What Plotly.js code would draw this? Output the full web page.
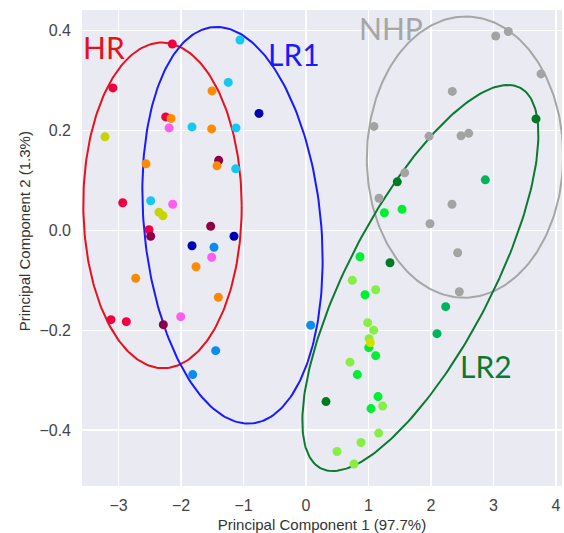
<!DOCTYPE html>
<html>
<head>
<meta charset="utf-8">
<script src="https://cdn.plot.ly/plotly-3.0.1.min.js"></script>
<style>html,body{margin:0;padding:0;background:#fff;}#chart{width:564px;height:533px;}</style>
</head>
<body>
<div id="chart"></div>
<script>
// ---- data (PC1, PC2) per sample colour group ----
const redX = [-2.14, -3.09, -2.245, -2.933, -2.512, -3.12, -2.875];
const redY = [0.373, 0.285, 0.227, 0.055, 0.001, -0.179, -0.183];
const orangeX = [-1.504, -2.16, -1.51, -2.56, -1.424, -1.76, -2.725, -1.403];
const orangeY = [0.279, 0.224, 0.203, 0.133, 0.129, -0.073, -0.096, -0.134];
const olivX = [-3.216, -2.352, -2.288];
const olivY = [0.187, 0.036, 0.029];
const pinkX = [-2.19, -2.133, -1.509, -2.005];
const pinkY = [0.205, 0.052, -0.054, -0.173];
const maroonX = [-1.397, -2.485, -1.525, -2.283];
const maroonY = [0.14, -0.012, 0.008, -0.189];
const cyanX = [-1.056, -1.243, -1.824, -1.12, -1.125, -2.485];
const cyanY = [0.381, 0.296, 0.207, 0.205, 0.123, 0.059];
const azureX = [-1.472, -1.445, -1.813, 0.075];
const azureY = [-0.034, -0.241, -0.289, -0.19];
const navyX = [-0.752, -1.152, -1.824];
const navyY = [0.234, -0.012, -0.031];
const grayX = [3.035, 3.237, 3.76, 2.341, 1.088, 1.968, 2.48, 2.603, 1.579, 1.168, 2.336, 1.984, 2.427, 2.453];
const grayY = [0.389, 0.398, 0.313, 0.278, 0.208, 0.188, 0.189, 0.194, 0.115, 0.064, 0.052, 0.013, -0.045, -0.123];
const dkGreenX = [1.46, 1.344, 0.32, 3.68];
const dkGreenY = [0.097, -0.065, -0.343, 0.223];
const seaGreenX = [2.869, 2.235, 2.096];
const seaGreenY = [0.101, -0.153, -0.207];
const brGreenX = [1.253, 1.536, 0.864, 0.944, 1.003, 1.115, 0.821, 1.152, 1.04];
const brGreenY = [0.035, 0.042, -0.053, -0.129, -0.235, -0.251, -0.289, -0.333, -0.357];
const ltGreenX = [0.741, 1.115, 0.987, 1.083, 1.008, 0.704, 1.227, 1.163, 0.88, 0.496, 0.768];
const ltGreenY = [-0.1, -0.119, -0.185, -0.2, -0.217, -0.264, -0.352, -0.406, -0.425, -0.443, -0.468];
const yellowX = [1.029];
const yellowY = [-0.225];

// ---- group ellipses: centre (cx, cy), terms A, B, C of x = cx + A cos t + C sin t, y = cy + B sin t ----
const ellipseNames = ['HR', 'LR1', 'NHP', 'LR2'];
const ellipseCX = [-2.296, -1.176, 2.544, 1.83];
const ellipseCY = [0.0498, 0.010, 0.1465, -0.0955];
const ellipseA = [1.267, 1.42, 1.571, 1.267];
const ellipseB = [0.326, 0.397, 0.2815, 0.3865];
const ellipseC = [-0.01, -0.253, 0.013, 1.4];
const ellipseColors = ['#e8101c', '#1a1aff', '#a6a6a6', '#0b7a30'];

// group labels
const labelText = ['HR', 'LR1', 'NHP', 'LR2'];
const labelX = [-3.24, -0.2, 1.36, 2.88];
const labelY = [0.366, 0.352, 0.405, -0.272];

const traces = [];
ellipseNames.forEach((n, i) => {
  const xs = [], ys = [];
  for (let k = 0; k <= 240; k++) {
    const t = 2 * Math.PI * k / 240;
    xs.push(ellipseCX[i] + ellipseA[i] * Math.cos(t) + ellipseC[i] * Math.sin(t));
    ys.push(ellipseCY[i] + ellipseB[i] * Math.sin(t));
  }
  traces.push({x: xs, y: ys, mode: 'lines', line: {color: ellipseColors[i], width: 2}, hoverinfo: 'skip', name: n});
});

const groups = [
  [grayX, grayY, '#a3a3a3'],
  [redX, redY, '#f00040'],
  [olivX, olivY, '#c8d400'],
  [pinkX, pinkY, '#ff5cf0'],
  [maroonX, maroonY, '#8c0048'],
  [orangeX, orangeY, '#ff8a00'],
  [cyanX, cyanY, '#14c8f0'],
  [azureX, azureY, '#0a8cf0'],
  [navyX, navyY, '#0000b4'],
  [dkGreenX, dkGreenY, '#007a22'],
  [seaGreenX, seaGreenY, '#00b45c'],
  [ltGreenX, ltGreenY, '#86ee44'],
  [brGreenX, brGreenY, '#00ee33'],
  [yellowX, yellowY, '#d6e000']
];
groups.forEach(g => traces.push({x: g[0], y: g[1], mode: 'markers', marker: {color: g[2], size: 9}, hoverinfo: 'x+y'}));

const annotations = labelText.map((t, i) => ({
  x: labelX[i], y: labelY[i], xref: 'x', yref: 'y', text: t, showarrow: false,
  font: {family: 'Lato, sans-serif', size: 30, color: ellipseColors[i]}, xanchor: 'center', yanchor: 'middle'
}));
annotations.push({
  xref: 'paper', yref: 'paper', x: -0.118, y: 0.536, xanchor: 'center', yanchor: 'middle',
  text: 'Principal Component 2 (1.3%)', textangle: -90, showarrow: false,
  font: {family: 'Liberation Sans, Arial, sans-serif', size: 15, color: '#333'}
});

const layout = {
  width: 564, height: 533,
  margin: {l: 82, r: 2, t: 10, b: 47},
  paper_bgcolor: '#ffffff', plot_bgcolor: '#eaeaf2',
  showlegend: false,
  font: {family: 'Liberation Sans, Arial, sans-serif', color: '#444'},
  xaxis: {
    range: [-3.584, 4.096], dtick: 1, tick0: 0, showgrid: true, gridcolor: '#ffffff', gridwidth: 1.3,
    zeroline: false, showline: false, ticks: '', ticklabelstandoff: 8,
    tickfont: {size: 16, color: '#444'},
    title: {text: 'Principal Component 1 (97.7%)', font: {size: 15, color: '#333'}, standoff: 6}
  },
  yaxis: {
    range: [-0.512, 0.441], dtick: 0.2, tick0: 0, tickformat: '.1f', showgrid: true, gridcolor: '#ffffff', gridwidth: 1.3,
    zeroline: false, showline: false, ticks: '', ticklabelstandoff: 10,
    tickfont: {size: 16, color: '#444'}
  },
  annotations: annotations
};

Plotly.newPlot('chart', traces, layout, {displayModeBar: false, staticPlot: true});
</script>
</body>
</html>
